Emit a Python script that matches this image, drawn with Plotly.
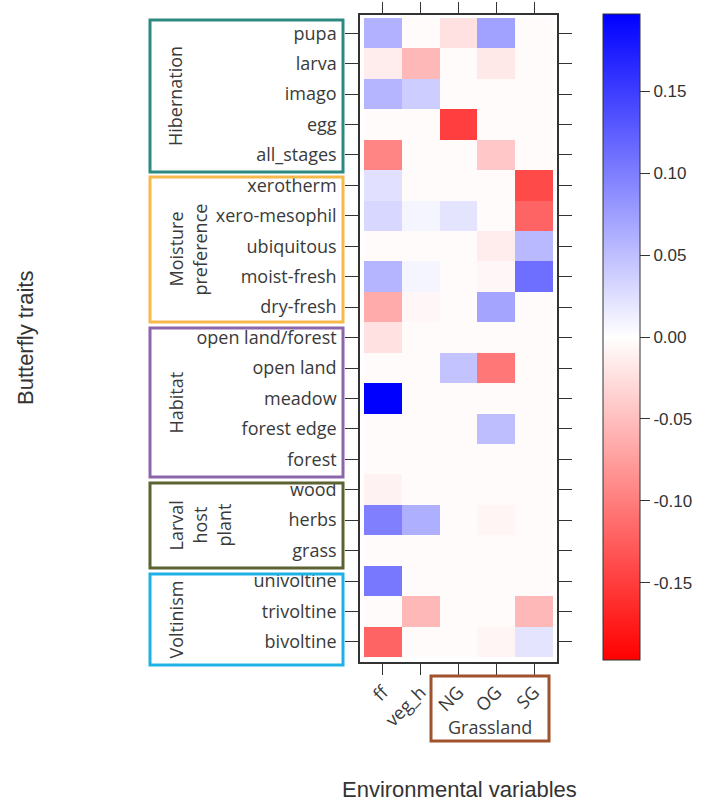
import plotly.graph_objects as go

# Environmental variables (columns) and butterfly traits (rows, top to bottom)
env_vars = ["ff", "veg_h", "NG", "OG", "SG"]
traits = [
    "pupa", "larva", "imago", "egg", "all_stages",
    "xerotherm", "xero-mesophil", "ubiquitous", "moist-fresh", "dry-fresh",
    "open land/forest", "open land", "meadow", "forest edge", "forest",
    "wood", "herbs", "grass",
    "univoltine", "trivoltine", "bivoltine",
]

# Correlation values per column (one list per environmental variable, in trait order)
ff = [0.060, -0.015, 0.058, -0.003, -0.095,
      0.023, 0.031, -0.003, 0.058, -0.065,
      -0.023, -0.003, 0.197, -0.003, -0.003,
      -0.010, 0.098, -0.003,
      0.104, -0.003, -0.120]
veg_h = [-0.003, -0.055, 0.039, -0.003, -0.003,
         -0.003, 0.008, -0.003, 0.008, -0.006,
         -0.003, -0.003, -0.003, -0.003, -0.003,
         -0.003, 0.062, -0.003,
         -0.003, -0.055, -0.003]
NG = [-0.023, -0.003, -0.003, -0.148, -0.003,
      -0.003, 0.021, -0.003, -0.003, -0.003,
      -0.003, 0.046, -0.003, -0.003, -0.003,
      -0.003, -0.003, -0.003,
      -0.003, -0.003, -0.003]
OG = [0.073, -0.018, -0.003, -0.003, -0.043,
      -0.003, -0.003, -0.015, -0.006, 0.070,
      -0.003, -0.105, -0.003, 0.050, -0.003,
      -0.003, -0.008, -0.003,
      -0.003, -0.003, -0.008]
SG = [-0.003, -0.003, -0.003, -0.003, -0.003,
      -0.140, -0.120, 0.054, 0.112, -0.003,
      -0.003, -0.003, -0.003, -0.003, -0.003,
      -0.003, -0.003, -0.003,
      -0.003, -0.055, 0.021]

cbar_ticks = [-0.15, -0.10, -0.05, 0.00, 0.05, 0.10, 0.15]
cbar_labels = ["-0.15", "-0.10", "-0.05", "0.00", "0.05", "0.10", "0.15"]
zlim = 0.197

# Trait groups: (label lines, frame colour)
groups = [
    (["Hibernation"], "#2e8a80"),
    (["Moisture", "preference"], "#f7b94c"),
    (["Habitat"], "#8c66ab"),
    (["Larval", "host", "plant"], "#5c6231"),
    (["Voltinism"], "#1eb1e6"),
]

columns = [ff, veg_h, NG, OG, SG]
z = [[col[i] for col in columns] for i in range(len(traits))]
xs = list(range(1, len(env_vars) + 1))
ys = list(range(1, len(traits) + 1))

W, H = 702, 801
L, R, T, B = 360, 145, 15, 139
PW, PH = W - L - R, H - T - B


def px(xp):
    return (xp - L) / PW


def py(yp):
    return (H - B - yp) / PH


label_font = dict(family="Open Sans, Noto Sans, sans-serif", size=18, color="#3a3a3a")
title_font = dict(family="Liberation Sans, Arial, sans-serif", size=22, color="#333333")

fig = go.Figure(
    go.Heatmap(
        x=xs, y=ys, z=z,
        zmin=-zlim, zmax=zlim,
        colorscale=[[0, "#ff0000"], [0.5, "#ffffff"], [1, "#0000ff"]],
        xgap=0, ygap=0,
        colorbar=dict(
            x=px(603), xanchor="left", xpad=0,
            y=py(14), yanchor="top", ypad=0,
            lenmode="pixels", len=646,
            thickness=37, thicknessmode="pixels",
            outlinewidth=1, outlinecolor="#333333",
            tickvals=cbar_ticks, ticktext=cbar_labels,
            ticks="outside", ticklen=10, tickcolor="#333333",
            tickfont=dict(family="Liberation Sans, Arial, sans-serif", size=17, color="#333333"),
        ),
        hovertemplate="%{y}<br>%{x}: %{z}<extra></extra>",
    )
)

fig.update_xaxes(
    range=[0.394, 5.606], tickvals=xs, ticktext=env_vars, tickangle=-45,
    ticks="outside", ticklen=11, tickcolor="#333333",
    showline=True, linecolor="#333333", linewidth=1.5, mirror="ticks",
    showgrid=False, zeroline=False, tickfont=label_font,
)
fig.update_yaxes(
    range=[21.66, 0.4], tickvals=ys, ticktext=traits,
    ticks="outside", ticklen=13, tickcolor="#333333",
    showline=True, linecolor="#333333", linewidth=1.5, mirror="ticks",
    showgrid=False, zeroline=False, tickfont=label_font, ticklabelstandoff=5,
)

shapes = []
annotations = []

# Group frames on the trait axis, with their labels
frame_edges = [(20, 172), (177, 322), (328, 477), (483, 568), (574, 665)]
label_x0 = 175
for (lines, color), (top, bottom) in zip(groups, frame_edges):
    shapes.append(dict(type="rect", xref="paper", yref="paper",
                       x0=px(150), x1=px(343), y0=py(bottom), y1=py(top),
                       line=dict(color=color, width=3)))
    for k, line in enumerate(lines):
        annotations.append(dict(
            text=line, xref="paper", yref="paper",
            x=px(label_x0 + 24 * k), y=py((top + bottom) / 2),
            textangle=-90, showarrow=False, font=label_font,
            xanchor="center", yanchor="middle"))

# Grassland frame around NG, OG, SG
shapes.append(dict(type="rect", xref="paper", yref="paper",
                   x0=px(431), x1=px(549), y0=py(741), y1=py(676),
                   line=dict(color="#a0522d", width=3)))
annotations.append(dict(text="Grassland", xref="paper", yref="paper",
                        x=px(490), y=py(727), showarrow=False, font=label_font,
                        xanchor="center", yanchor="middle"))

# Axis titles
annotations.append(dict(text="Butterfly traits", xref="paper", yref="paper",
                        x=px(25), y=py(338), textangle=-90, showarrow=False,
                        font=title_font, xanchor="center", yanchor="middle"))
annotations.append(dict(text="Environmental variables", xref="paper", yref="paper",
                        x=px(459), y=py(789), showarrow=False,
                        font=title_font, xanchor="center", yanchor="middle"))

fig.update_layout(
    width=W, height=H,
    margin=dict(l=L, r=R, t=T, b=B, autoexpand=False),
    paper_bgcolor="white", plot_bgcolor="white",
    shapes=shapes, annotations=annotations,
    showlegend=False,
)

fig.write_html("out.html")
